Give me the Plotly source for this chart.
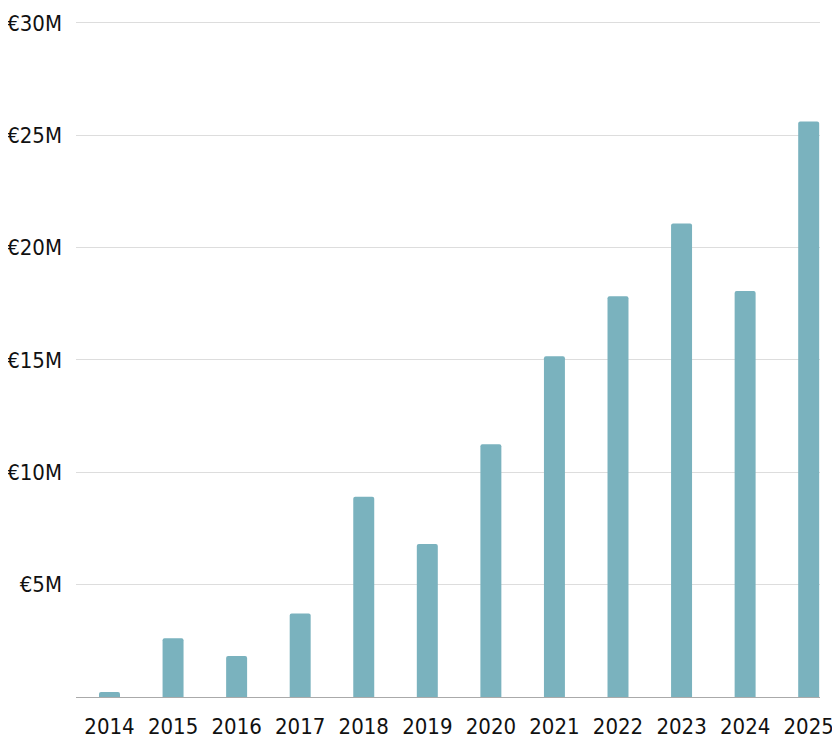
import plotly.graph_objects as go

years = ["2014", "2015", "2016", "2017", "2018", "2019", "2020", "2021", "2022", "2023", "2024", "2025"]
values_m = [0.22, 2.62, 1.82, 3.72, 8.91, 6.81, 11.25, 15.17, 17.84, 21.07, 18.07, 25.62]
y_ticks = [0, 5, 10, 15, 20, 25, 30]
y_tick_labels = ["", "€5M", "€10M", "€15M", "€20M", "€25M", "€30M"]

FONT = "DejaVu Sans Condensed"

fig = go.Figure(go.Bar(
    x=years, y=values_m,
    marker=dict(color="#7AB2BE", cornerradius=2, line=dict(width=0)),
    hoverinfo="x+y",
))

fig.update_layout(
    width=840, height=752,
    margin=dict(l=68, r=28, t=6, b=63),
    paper_bgcolor="white", plot_bgcolor="white",
    bargap=0.67,
    showlegend=False,
    font=dict(family=FONT, color="#111111"),
)
fig.update_xaxes(
    type="category",
    range=[-0.527, 11.178],
    showgrid=False,
    showline=True, linecolor="#aaaaaa", linewidth=1,
    ticks="", ticklabelstandoff=10,
    tickangle=0, automargin=False,
    tickfont=dict(size=22, family=FONT, color="#111111"),
)
fig.update_yaxes(
    range=[0, 30.4],
    tickvals=y_ticks, ticktext=y_tick_labels,
    showgrid=True, gridcolor="#dddddd", gridwidth=1,
    zeroline=False, automargin=False,
    ticks="", ticklabelstandoff=13,
    tickfont=dict(size=22, family=FONT, color="#111111"),
)

fig.write_html("out.html")
